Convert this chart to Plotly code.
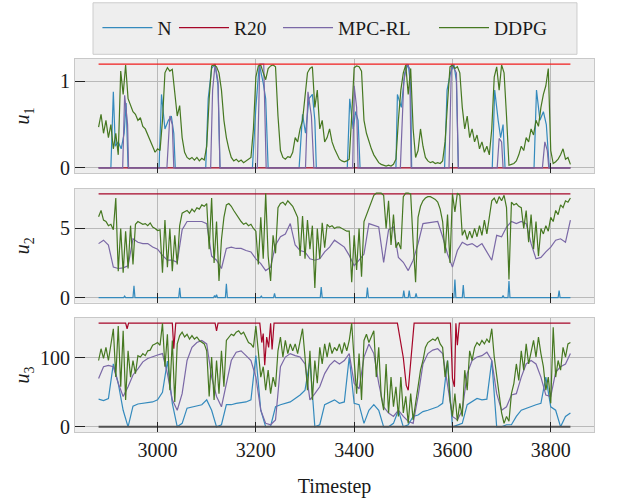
import plotly.graph_objects as go

# ---------------- data ----------------
timestep_fine = list(range(2880, 3841, 5))     # DDPG samples every 5 steps
timestep_coarse = list(range(2880, 3841, 10))  # MPC-RL / N samples every 10 steps
t_span = [2880, 3840]

# ---- u1 ----
ddpg_u1 = [
    0.47, 0.62, 0.40, 0.55, 0.35, 0.50, 0.22, 0.40, 0.15, 1.12,
    0.85, 1.19, 0.80, 0.72, 0.65, 0.62, 0.55, 0.58, 0.48, 0.45,
    0.38, 0.32, 0.25, 0.18, 0.22, 0.20, 0.55, 1.10, 1.16, 1.12,
    1.14, 0.85, 0.60, 0.72, 0.35, 0.18, 0.12, 0.10, 0.12, 0.09,
    0.12, 0.08, 0.11, 0.09, 0.25, 0.80, 1.18, 1.19, 1.17, 1.10,
    0.90, 0.55, 0.35, 0.22, 0.12, 0.08, 0.10, 0.07, 0.09, 0.06,
    0.08, 0.10, 0.12, 0.45, 1.05, 1.18, 1.19, 1.10, 1.02, 1.15,
    1.18, 1.19, 1.17, 0.60, 0.20, 0.12, 0.10, 0.13, 0.12, 0.18,
    0.35, 0.30, 0.45, 0.55, 0.85, 1.10, 1.15, 1.17, 0.70, 0.90,
    0.45, 0.55, 0.30, 0.35, 0.45, 0.30, 0.22, 0.15, 0.10, 0.08,
    0.07, 0.08, 0.10, 0.60, 1.16, 1.18, 1.17, 1.12, 0.55, 0.40,
    0.30, 0.22, 0.15, 0.10, 0.06, 0.04, 0.03, 0.02, 0.03, 0.02,
    0.04, 0.10, 0.55, 0.90, 1.10, 1.19, 0.85, 1.15, 0.45, 0.12,
    0.20, 0.45, 0.25, 0.12, 0.08, 0.06, 0.07, 0.05, 0.06, 0.05,
    0.08, 0.30, 0.75, 1.17, 1.19, 1.15, 1.17, 1.10, 0.70, 0.45,
    0.60, 0.35, 0.45, 0.30, 0.38, 0.22, 0.30, 0.18, 0.25, 0.15,
    0.45, 1.05, 1.17, 0.90, 1.19, 1.10, 0.60, 0.03, 0.04, 0.05,
    0.08, 0.15, 0.25, 0.20, 0.35, 0.30, 0.45, 0.38, 0.55, 0.48,
    0.70, 0.85, 0.95, 1.15, 0.20, 0.05, 0.07, 0.10, 0.15, 0.22,
    0.10, 0.12, 0.04,
]
n_u1_t = [2880, 2905, 2910, 2914, 2920, 2926, 2932, 2936, 2940,
          3003, 3008, 3015, 3022, 3028, 3033, 3036,
          3098, 3103, 3110, 3117, 3123, 3127,
          3193, 3200, 3207, 3215, 3220, 3225,
          3288, 3295, 3301, 3308, 3315, 3320, 3323,
          3386, 3391, 3398, 3403, 3408, 3412,
          3485, 3488, 3496, 3503, 3510, 3515, 3517,
          3584, 3589, 3596, 3603, 3608, 3612,
          3681, 3686, 3693, 3698, 3703, 3707,
          3766, 3771, 3778, 3785, 3791, 3797, 3840]
n_u1 = [0, 0, 0.88, 0.25, 0.30, 0.22, 0.40, 0.75, 0,
        0, 0.85, 0.45, 0.55, 0.60, 0.40, 0,
        0, 0.80, 1.15, 1.20, 0.95, 0,
        0, 0.70, 1.20, 0.98, 0.80, 0,
        0, 0.62, 0.40, 0.80, 0.85, 0.55, 0,
        0, 0.80, 0.45, 0.65, 0.55, 0,
        0, 0.85, 0.70, 1.10, 1.20, 0.95, 0,
        0, 0.90, 1.10, 1.20, 1.00, 0,
        0, 0.90, 0.55, 0.35, 0.50, 0,
        0, 0.90, 0.55, 0.65, 0.50, 0, 0]
mpc_u1_t = [2880, 2929, 2933, 2939, 2941,
            3019, 3025, 3030, 3033,
            3108, 3112, 3117, 3123, 3127,
            3203, 3208, 3216, 3221,
            3301, 3306, 3313, 3318,
            3397, 3400, 3405, 3408,
            3494, 3501, 3507, 3513, 3516,
            3593, 3598, 3608, 3612,
            3691, 3695, 3700, 3703,
            3783, 3788, 3793, 3796, 3840]
mpc_u1 = [0, 0, 0.84, 0.50, 0,
          0, 0.60, 0.50, 0,
          0, 0.90, 1.20, 1.00, 0,
          0, 1.20, 1.20, 0,
          0, 0.88, 0.60, 0,
          0, 0.95, 0.70, 0,
          0, 1.00, 1.20, 1.15, 0,
          0, 1.20, 1.10, 0,
          0, 0.34, 0.30, 0,
          0, 0.30, 0.20, 0, 0]
r20_u1 = [0, 0]
u1_upper = [1.2, 1.2]

# ---- u2 ----
ddpg_u2 = [
    5.85, 6.3, 5.6, 5.5, 5.2, 5.3, 4.9, 7.2, 1.9, 5.0,
    1.8, 4.8, 2.1, 5.2, 2.4, 5.3, 5.5, 5.4, 5.3, 5.35,
    5.2, 5.4, 5.1, 5.0, 4.85, 4.9, 1.8, 5.6, 2.2, 5.0,
    1.9, 4.5, 2.4, 5.2, 6.1, 6.2, 6.3, 6.1, 6.4, 6.2,
    6.5, 6.4, 6.7, 6.6, 6.8, 3.5, 7.2, 2.5, 5.5, 1.2,
    4.2, 5.8, 6.7, 6.8, 6.6, 6.3, 6.0, 5.7, 5.5, 5.3,
    5.4, 5.2, 5.3, 5.0, 4.8, 2.4, 5.8, 2.8, 7.55, 3.0,
    1.2, 4.5, 3.2, 6.5, 6.8, 6.9, 6.7, 7.0, 6.8, 6.6,
    6.2, 5.8, 3.0, 5.9, 2.8, 5.6, 3.5, 5.2, 0.7, 5.0,
    2.8, 5.4, 3.6, 5.3, 5.1, 5.2, 5.0, 5.1, 5.1, 5.0,
    4.9, 4.8, 4.8, 1.1, 4.5, 2.0, 5.0, 1.5, 5.5, 6.0,
    6.5, 7.0, 7.4, 7.55, 7.55, 7.55, 7.4, 5.0, 7.0, 3.8,
    6.0, 3.6, 4.0, 3.5, 7.3, 7.55, 7.55, 7.5, 4.0, 1.1,
    5.8, 6.6, 7.0, 7.2, 7.3, 7.3, 7.2, 7.1, 6.9, 6.4,
    5.5, 3.2, 6.0, 2.5, 7.5, 6.2, 7.55, 7.4, 4.5, 4.9,
    4.2, 4.8, 4.3, 5.0, 4.4, 5.2, 4.5, 5.6, 4.6, 5.8,
    7.0, 7.2, 6.8, 7.3, 7.0, 7.4, 6.5, 1.3, 6.9, 6.7,
    6.8, 6.6, 6.5, 5.0, 6.3, 4.0, 6.0, 3.5, 5.5, 3.0,
    5.0, 4.6, 5.2, 4.8, 5.8, 5.5, 6.3, 6.0, 6.7, 6.5,
    7.0, 6.9, 7.2,
]
mpc_u2 = [
    3.9, 4.15, 3.8, 2.2, 2.1, 2.15, 2.3, 4.25, 4.0, 3.9,
    3.9, 3.65, 3.5, 3.05, 2.7, 2.7, 2.55, 4.9, 5.5, 5.5,
    5.5, 5.5, 5.35, 3.0, 2.7, 2.1, 3.55, 3.65, 3.55, 3.55,
    3.4, 3.3, 2.8, 2.45, 1.95, 2.2, 3.8, 4.4, 4.6, 5.35,
    3.8, 3.4, 3.3, 2.8, 2.7, 2.8, 3.3, 3.65, 4.15, 3.9,
    3.65, 3.05, 2.3, 2.7, 3.15, 5.35, 5.25, 5.1, 2.55, 4.9,
    5.1, 2.9, 2.55, 1.95, 2.7, 3.9, 5.35, 5.4, 5.4, 5.5,
    4.4, 3.15, 2.2, 3.4, 4.0, 3.8, 3.9, 3.65, 3.9, 3.3,
    2.7, 4.5, 4.4, 5.1, 5.5, 5.35, 5.5, 5.35, 3.9, 2.8,
    2.9, 3.3, 3.65, 4.15, 4.25, 4.0, 5.6,
]
n_u2_t = [2880, 2931, 2933, 2935, 2950, 2952, 2954, 3043, 3045, 3047,
          3114, 3116, 3118, 3120, 3122, 3138, 3140, 3142, 3209, 3211,
          3213, 3236, 3238, 3240, 3331, 3333, 3335, 3425, 3427, 3429,
          3499, 3501, 3503, 3510, 3512, 3514, 3524, 3526, 3528, 3603,
          3605, 3607, 3620, 3622, 3624, 3701, 3703, 3705, 3713, 3715,
          3717, 3815, 3817, 3819, 3840]
n_u2 = [0, 0, 0.1, 0, 0, 0.85, 0, 0, 0.7, 0,
        0, 0.15, 0, 0.2, 0, 0, 1.0, 0, 0, 0.1,
        0, 0, 0.3, 0, 0, 0.75, 0, 0, 0.73, 0,
        0, 0.5, 0, 0, 0.5, 0, 0, 0.3, 0, 0,
        1.3, 0, 0, 0.9, 0, 0, 0.15, 0, 0, 1.2,
        0, 0, 0.5, 0, 0]
r20_u2 = [7.5, 7.5]

# ---- u3 ----
ddpg_u3 = [
    96, 113, 99, 115, 96, 120, 142, 72, 146, 58,
    139, 39, 110, 72, 96, 77, 103, 101, 106, 103,
    110, 111, 118, 120, 122, 118, 150, 87, 134, 53,
    125, 36, 120, 132, 137, 130, 134, 127, 132, 127,
    130, 125, 122, 120, 110, 44, 101, 39, 96, 48,
    110, 58, 125, 130, 134, 132, 137, 139, 134, 137,
    130, 122, 120, 115, 146, 110, 72, 87, 53, 82,
    48, 72, 58, 110, 130, 101, 125, 106, 120, 110,
    120, 106, 122, 142, 101, 53, 110, 39, 96, 63,
    115, 91, 120, 101, 122, 106, 115, 110, 120, 106,
    122, 110, 125, 150, 96, 48, 106, 39, 125, 134,
    122, 132, 139, 72, 115, 44, 24, 91, 20, 72,
    29, 58, 15, 72, 20, 44, 5, 48, 10, 34,
    58, 82, 96, 115, 122, 125, 127, 125, 130, 120,
    115, 72, 96, 39, 15, 48, 8, 34, 15, 82,
    53, 110, 96, 115, 122, 118, 125, 120, 127, 122,
    142, 101, 72, 44, 20, 5, 15, 8, 48, 63,
    91, 67, 110, 82, 120, 91, 110, 125, 101, 130,
    106, 87, 53, 72, 34, 144, 72, 96, 82, 115,
    101, 120, 122,
]
mpc_u3 = [
    70, 87, 89, 87, 63, 44, 58, 75, 84, 94,
    99, 102, 104, 106, 77, 39, 24, 48, 96, 115,
    122, 125, 120, 72, 44, 29, 65, 96, 108, 110,
    103, 96, 72, 24, 5, 3, 10, 87, 101, 106,
    103, 101, 91, 39, 48, 58, 77, 89, 96, 91,
    96, 106, 63, 55, 101, 120, 106, 63, 29, 20,
    15, 24, 15, 8, 5, 44, 91, 106, 111, 113,
    106, 58, 15, 10, 24, 77, 96, 101, 103, 108,
    96, 48, 24, 29, 46, 48, 72, 91, 96, 91,
    72, 46, 44, 79, 87, 91, 106,
]
n_u3 = [
    40, 38, 41, 91, 63, 24, 0, 30, 33, 34,
    35, 36, 39, 50, 95, 34, 0, 5, 27, 29,
    30, 32, 39, 24, 0, 3, 32, 32, 34, 35,
    36, 39, 103, 24, 0, 1, 29, 32, 34, 36,
    41, 46, 53, 96, 0, 3, 32, 36, 39, 34,
    36, 101, 34, 32, 5, 24, 32, 24, 0, 0,
    5, 24, 0, 3, 15, 17, 22, 24, 27, 29,
    34, 96, 0, 3, 5, 32, 36, 41, 39, 40,
    96, 0, 0, 3, 3, 15, 24, 27, 29, 32,
    34, 72, 29, 24, 0, 15, 20,
]
r20_u3_t = [2880, 2935, 2938, 2941, 3030, 3033, 3037, 3117, 3120, 3123,
            3208, 3212, 3215, 3218, 3222, 3226, 3230, 3233, 3237,
            3488, 3500, 3506, 3510, 3514, 3518, 3522,
            3596, 3600, 3604, 3607, 3610, 3614, 3840]
r20_u3 = [150, 150, 142, 150, 150, 113, 150, 150, 139, 150,
          150, 122, 135, 89, 130, 115, 150, 112, 150,
          150, 100, 60, 53, 90, 120, 150,
          150, 70, 58, 150, 118, 150, 150]
u3_lower = [0, 0]

x_tick_vals = [3000, 3200, 3400, 3600, 3800]
y_tick_vals = {1: [0, 1], 2: [0, 5], 3: [0, 100]}
y_ranges = {1: [-0.06, 1.26], 2: [-0.375, 7.875], 3: [-7.5, 157.5]}
y_titles = {1: "<i>u</i><sub>1</sub>", 2: "<i>u</i><sub>2</sub>", 3: "<i>u</i><sub>3</sub>"}

for a, b in [(timestep_fine, ddpg_u1), (timestep_fine, ddpg_u2), (timestep_fine, ddpg_u3),
             (timestep_coarse, mpc_u2), (timestep_coarse, mpc_u3), (timestep_coarse, n_u3),
             (n_u1_t, n_u1), (mpc_u1_t, mpc_u1), (n_u2_t, n_u2), (r20_u3_t, r20_u3)]:
    assert len(a) == len(b), (len(a), len(b))

# ---------------- styling ----------------
C_N, C_R20, C_MPC, C_DDPG = "#348ABD", "#A60628", "#7A68A6", "#467821"
FONT = "Liberation Serif"
LW = 1.2

fig = go.Figure()


def add(x, y, color, row, name=None, legend=None, width=LW):
    suffix = "" if row == 1 else str(row)
    fig.add_trace(go.Scatter(
        x=x, y=y, mode="lines", name=name or "",
        line=dict(color=color, width=width),
        xaxis="x" + suffix, yaxis="y" + suffix,
        showlegend=legend is not None, legend=legend or "legend",
        hoverinfo="skip"))


# panel 1
add(n_u1_t, n_u1, C_N, 1, "N", "legend")
add(t_span, r20_u1, C_R20, 1, "R20", "legend2")
add(mpc_u1_t, mpc_u1, C_MPC, 1, "MPC-RL", "legend3")
add(timestep_fine, ddpg_u1, C_DDPG, 1, "DDPG", "legend4")
add(t_span, u1_upper, "#f01c1c", 1)
# panel 2
add(n_u2_t, n_u2, C_N, 2)
add(t_span, r20_u2, C_R20, 2)
add(timestep_coarse, mpc_u2, C_MPC, 2)
add(timestep_fine, ddpg_u2, C_DDPG, 2)
# panel 3
add(timestep_coarse, n_u3, C_N, 3)
add(t_span, u3_lower, "#505050", 3, width=2)
add(r20_u3_t, r20_u3, C_R20, 3)
add(timestep_coarse, mpc_u3, C_MPC, 3)
add(timestep_fine, ddpg_u3, C_DDPG, 3)

domains = {1: [0.6944, 1.0], 2: [0.3466, 0.6523], 3: [0.0, 0.3056]}
layout = dict(
    width=617, height=502,
    margin=dict(l=75, r=23, t=59, b=70, autoexpand=False),
    paper_bgcolor="white", plot_bgcolor="#eeeeee",
    font=dict(family=FONT, size=18, color="#1a1a1a"),
    hovermode=False,
)
for r in (1, 2, 3):
    s = "" if r == 1 else str(r)
    layout["xaxis" + s] = dict(
        domain=[0, 1], anchor="y" + s, range=[2832, 3888], automargin=False,
        tickvals=x_tick_vals, showticklabels=(r == 3),
        ticks="inside", ticklen=10, tickwidth=1, tickcolor="#222222",
        showgrid=True, gridcolor="#b9b9b9", gridwidth=1, zeroline=False,
        showline=True, mirror=True, linecolor="#c8c8c8", linewidth=1,
        tickfont=dict(family=FONT, size=20, color="#1a1a1a"),
        **({} if r == 1 else {"matches": "x"}),
    )
    layout["yaxis" + s] = dict(
        domain=domains[r], anchor="x" + s, range=y_ranges[r], automargin=False,
        tickvals=y_tick_vals[r],
        ticks="inside", ticklen=10, tickwidth=1, tickcolor="#222222",
        showgrid=True, gridcolor="#b9b9b9", gridwidth=1, zeroline=False,
        showline=True, mirror=True, linecolor="#c8c8c8", linewidth=1,
        tickfont=dict(family=FONT, size=20, color="#1a1a1a"),
        title=dict(text=y_titles[r], font=dict(family=FONT, size=20, color="#1a1a1a"),
                   standoff=(4 if r == 3 else 24)),
    )
layout["xaxis3"]["title"] = dict(text="Timestep", font=dict(family=FONT, size=20, color="#1a1a1a"),
                                 standoff=18)

legend_common = dict(orientation="h", xanchor="left", yanchor="middle",
                     xref="container", yref="container", y=0.9442,
                     bgcolor="rgba(0,0,0,0)", borderwidth=0, itemwidth=50,
                     font=dict(family=FONT, size=19.5, color="#1a1a1a"))
for key, xpos in [("legend", 0.1579), ("legend2", 0.2820), ("legend3", 0.4506), ("legend4", 0.7034)]:
    layout[key] = dict(legend_common, x=xpos)

layout["shapes"] = [dict(type="rect", xref="paper", yref="paper",
                         x0=0.0347, x1=0.9672, y0=1.0126, y1=1.1507,
                         line=dict(color="#cccccc", width=1), fillcolor="#eeeeee",
                         layer="below")]

fig.update_layout(**layout)
fig.write_html("out.html", config={"displayModeBar": False, "staticPlot": True},
               post_script="document.body.style.margin='0px';document.body.style.padding='0px';")
